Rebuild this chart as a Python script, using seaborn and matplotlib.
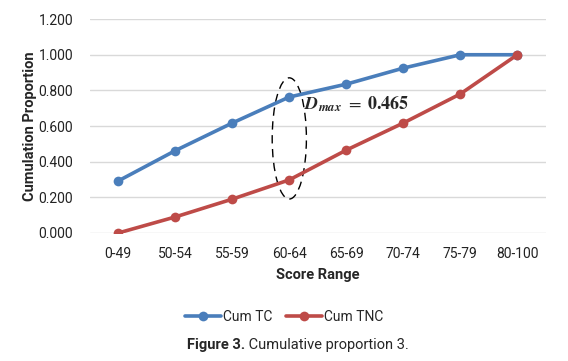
import numpy as np
import pandas as pd
import matplotlib.pyplot as plt
import seaborn as sns
from matplotlib.patches import Ellipse

sns.set_theme(style='white')
plt.rcParams['font.family'] = ['Roboto', 'DejaVu Sans']
plt.rcParams['mathtext.fontset'] = 'stix'

# data
score_range = ['0-49', '50-54', '55-59', '60-64', '65-69', '70-74', '75-79', '80-100']
cum_tc = [0.292, 0.462, 0.617, 0.763, 0.835, 0.925, 1.000, 1.000]
cum_tnc = [0.000, 0.090, 0.190, 0.298, 0.465, 0.617, 0.780, 1.000]
series = ['Cum TC', 'Cum TNC']
colors = ['#4A7EBB', '#BE4B48']

df = pd.DataFrame({
    'Score Range': score_range * 2,
    'value': cum_tc + cum_tnc,
    'series': [series[0]] * len(score_range) + [series[1]] * len(score_range),
})

fig = plt.figure(figsize=(5.68, 3.61), dpi=100)
ax = fig.add_axes([0.158, 0.3546, 0.803, 0.5925])

sns.lineplot(data=df, x='Score Range', y='value', hue='series', palette=colors,
             marker='o', markersize=7, markeredgewidth=0, linewidth=2.6,
             sort=False, ax=ax, legend=True)

ax.set_xlim(-0.5, len(score_range) - 0.5)
ax.set_ylim(0, 1.2)
ax.set_yticks(np.arange(0, 1.21, 0.2))
ax.set_yticklabels([f'{v:.3f}' for v in np.arange(0, 1.21, 0.2)])
ax.grid(axis='y', color='#D9D9D9', linewidth=1)
ax.set_axisbelow(True)
for s in ax.spines.values():
    s.set_visible(False)
ax.tick_params(axis='both', length=0, labelsize=10, colors='#222222')
ax.tick_params(axis='x', pad=10)
ax.tick_params(axis='y', pad=12)
ax.set_xlabel('Score Range', fontsize=10.5, fontweight='bold', labelpad=5)
ax.set_ylabel('Cumulation Proportion', fontsize=10.5, fontweight='bold', labelpad=1)

# D max annotation
i = score_range.index('60-64')
ax.add_patch(Ellipse((i, (cum_tc[i] + cum_tnc[i]) / 2), 0.6, 0.68, fill=False,
                     edgecolor='black', linestyle=(0, (6, 4)), linewidth=1))
ax.text(i + 0.25, cum_tc[i] - 0.04, r'$\mathbfit{D}_{\mathbfit{max}}\ =\ \mathbf{0.465}$',
        fontsize=13, ha='left', va='center')

handles, labels = ax.get_legend_handles_labels()
ax.legend_.remove()
fig.legend(handles, labels, loc='center', bbox_to_anchor=(0.5, 0.122), ncol=2,
           frameon=False, fontsize=10, handlelength=2.6, handletextpad=0.1,
           columnspacing=1.0)

fig.text(0.432, 0.045, 'Figure 3.', fontsize=10.5, fontweight='bold', ha='right', va='center')
fig.text(0.432, 0.045, ' Cumulative proportion 3.', fontsize=10.5, ha='left', va='center')

fig.savefig('out.png', dpi=100)
